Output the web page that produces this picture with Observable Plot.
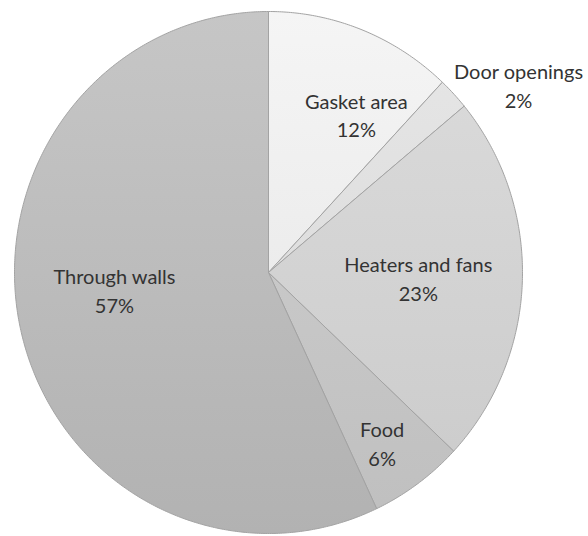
<!DOCTYPE html>
<html>
<head>
<meta charset="utf-8">
<script src="https://cdn.jsdelivr.net/npm/d3@7"></script>
<script src="https://cdn.jsdelivr.net/npm/@observablehq/plot@0.6"></script>
<style>
  html, body { margin: 0; padding: 0; background: #ffffff; }
  #chart svg { display: block; }
</style>
</head>
<body>
<div id="chart"></div>
<script>
// ---- data ----
const categories = ["Gasket area", "Door openings", "Heaters and fans", "Food", "Through walls"];
const shares = [12, 2, 23, 6, 57];
const percentLabels = ["12%", "2%", "23%", "6%", "57%"];

// ---- styles / layout (not data) ----
// vertical gradient per slice: [top colour, bottom colour]
const sliceGradients = [
  ["#f5f5f5", "#e3e3e3"],
  ["#e7e7e7", "#d5d5d5"],
  ["#dcdcdc", "#cacaca"],
  ["#d1d1d1", "#bfbfbf"],
  ["#c6c6c6", "#b2b2b2"]
];
// label placement: [radius fraction, angle shift in degrees]
const labelPlacement = {
  "Gasket area": [0.70, 8],
  "Door openings": [1.22, 7],
  "Heaters and fans": [0.59, 0],
  "Food": [0.79, 1.5],
  "Through walls": [0.61, 6.5]
};

const total = d3.sum(shares);
const slices = [];
let acc = 0;
categories.forEach((c, i) => {
  const a0 = acc / total * 2 * Math.PI;
  acc += shares[i];
  const a1 = acc / total * 2 * Math.PI;
  slices.push({category: c, value: shares[i], label: percentLabels[i], a0, a1, grad: "slice-grad-" + i});
});

function polygon(s) {
  const pts = [{x: 0, y: 0}];
  const n = Math.max(2, Math.ceil((s.a1 - s.a0) / (Math.PI / 360)));
  for (let k = 0; k <= n; k++) {
    const a = s.a0 + (s.a1 - s.a0) * k / n;
    pts.push({x: Math.sin(a), y: Math.cos(a)});
  }
  pts.push({x: 0, y: 0});
  return pts;
}

const labels = slices.map(s => {
  const [r, shift] = labelPlacement[s.category];
  const a = (s.a0 + s.a1) / 2 + shift * Math.PI / 180;
  return {x: r * Math.sin(a), y: r * Math.cos(a), text: s.category + "\n" + s.label};
});

// gradient definitions, rendered as a mark
function gradientDefs(index, scales) {
  const ns = "http://www.w3.org/2000/svg";
  const defs = document.createElementNS(ns, "defs");
  const yTop = scales.y(1), yBottom = scales.y(-1);
  sliceGradients.forEach(([top, bottom], i) => {
    const g = document.createElementNS(ns, "linearGradient");
    g.setAttribute("id", "slice-grad-" + i);
    g.setAttribute("gradientUnits", "userSpaceOnUse");
    g.setAttribute("x1", 0); g.setAttribute("x2", 0);
    g.setAttribute("y1", yTop); g.setAttribute("y2", yBottom);
    [[0, top], [1, bottom]].forEach(([o, c]) => {
      const st = document.createElementNS(ns, "stop");
      st.setAttribute("offset", o);
      st.setAttribute("stop-color", c);
      g.appendChild(st);
    });
    defs.appendChild(g);
  });
  return defs;
}

const marks = [gradientDefs];
slices.forEach(s => marks.push(Plot.line(polygon(s), {
  x: "x", y: "y", fill: `url(#${s.grad})`, stroke: "#a3a3a3", strokeWidth: 1, curve: "linear"
})));
marks.push(Plot.text(labels, {
  x: "x", y: "y", text: "text", fill: "#333333",
  fontSize: 20, lineHeight: 1.42, fontFamily: "Lato, 'Open Sans', sans-serif"
}));

const chart = Plot.plot({
  width: 588,
  height: 536,
  margin: 0,
  style: {background: "#ffffff", overflow: "visible"},
  x: {domain: [-1, 1], range: [14, 522], axis: null},
  y: {domain: [-1, 1], range: [533, 11], axis: null},
  marks
});
document.getElementById("chart").appendChild(chart);
</script>
</body>
</html>
